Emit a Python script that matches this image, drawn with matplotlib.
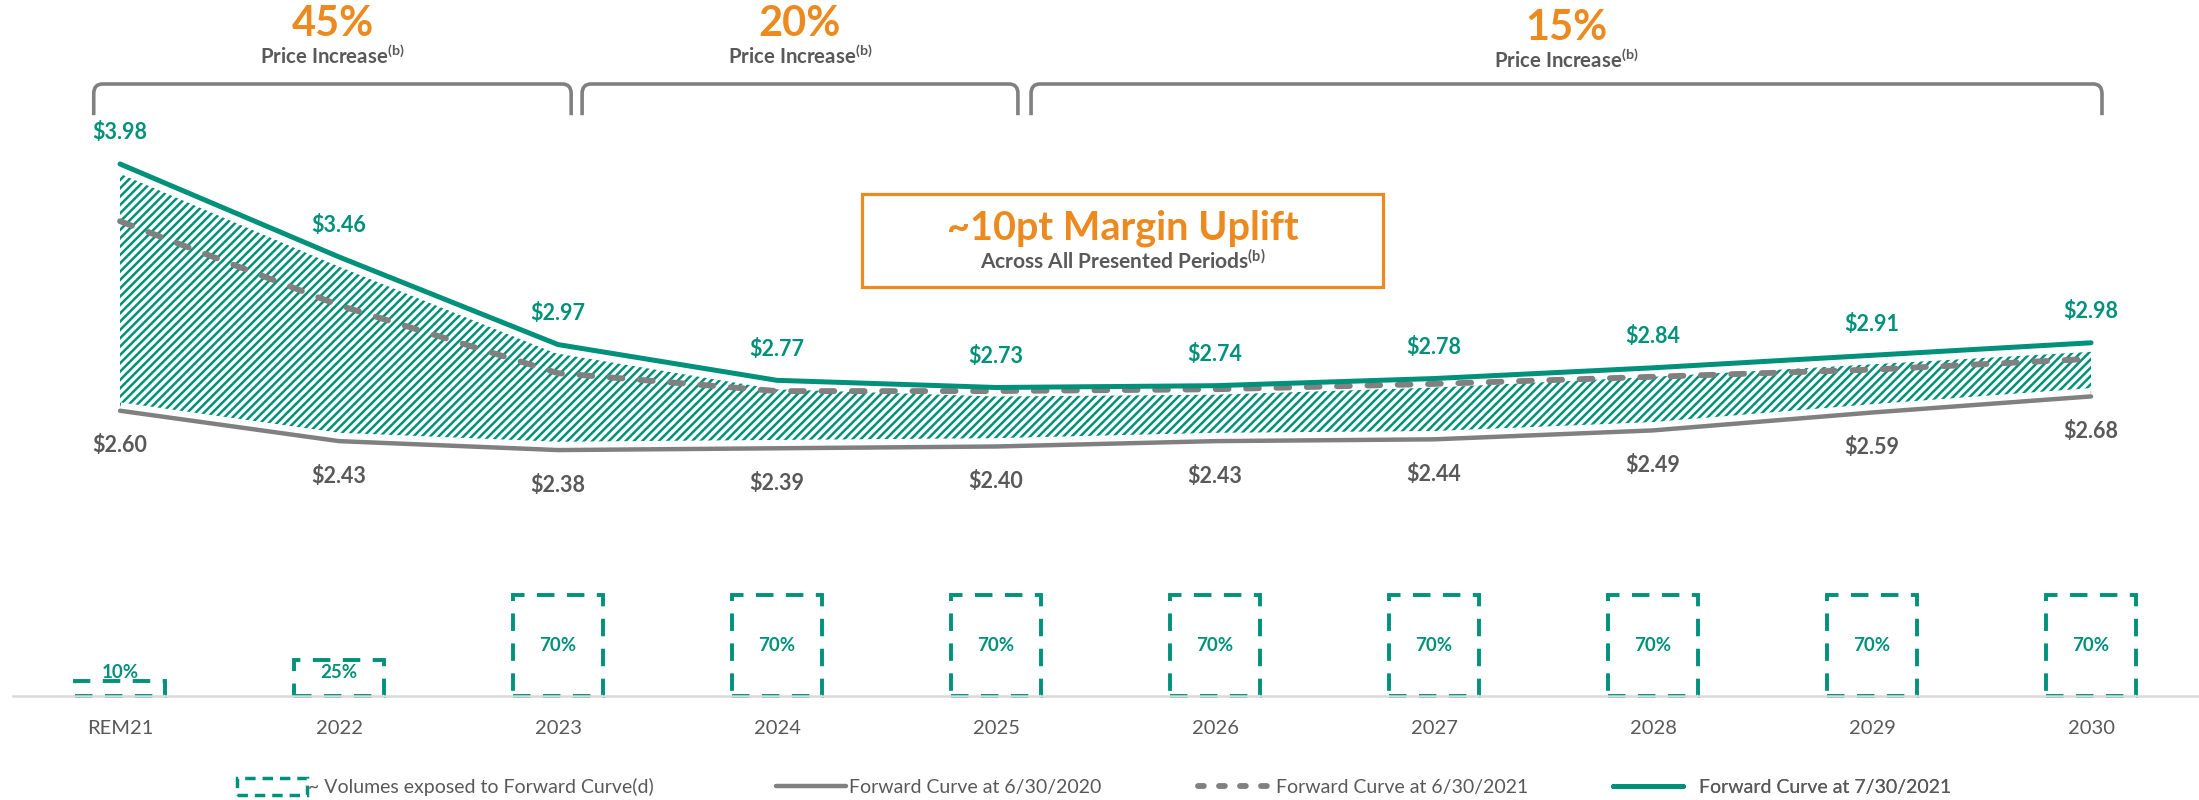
import numpy as np
import matplotlib
matplotlib.use('Agg')
import matplotlib.pyplot as plt
import matplotlib.transforms as mtransforms
from matplotlib.path import Path
from matplotlib.patches import PathPatch, Rectangle
from matplotlib.lines import Line2D

# data
periods = ['REM21', '2022', '2023', '2024', '2025', '2026', '2027', '2028', '2029', '2030']
curve_jun20 = [2.60, 2.43, 2.38, 2.39, 2.40, 2.43, 2.44, 2.49, 2.59, 2.68]
curve_jun21 = [3.66, 3.19, 2.81, 2.71, 2.71, 2.72, 2.75, 2.79, 2.83, 2.89]   # no labels, estimated
curve_jul21 = [3.98, 3.46, 2.97, 2.77, 2.73, 2.74, 2.78, 2.84, 2.91, 2.98]
exposed_pct = [10, 25, 70, 70, 70, 70, 70, 70, 70, 70]
price_increase = ['45%', '20%', '15%']
legend_labels = ['~ Volumes exposed to Forward Curve(d)', 'Forward Curve at 6/30/2020',
                 'Forward Curve at 6/30/2021', 'Forward Curve at 7/30/2021']

TEAL = '#00917A'
GRAY = '#808080'
DGRAY = '#595959'
ORANGE = '#EC8A1F'

plt.rcParams['font.family'] = ['Lato', 'DejaVu Sans']
plt.rcParams['mathtext.default'] = 'regular'
plt.rcParams['hatch.linewidth'] = 1.8
plt.rcParams['hatch.color'] = TEAL

fig = plt.figure(figsize=(21.99, 8), dpi=100)
fig.set_facecolor('white')
ax = fig.add_axes([0, 0, 1, 1])
ax.axis('off')
ax2 = ax.twinx()
ax2.axis('off')

x = np.arange(len(periods))
ax.set_xlim(-0.548, 9.493)
ax.set_ylim(0.423, 4.897)       # price scale
ax2.set_ylim(-71.8, 480.3)      # volume % scale

# step 1: hatched band between the two solid curves, white gap round the lines
ax.fill_between(x, curve_jun20, curve_jul21, facecolor='white', edgecolor=TEAL,
                hatch='////', linewidth=0, zorder=1)
ax.plot(x, curve_jun20, color='white', lw=12, solid_capstyle='butt', zorder=2)
ax.plot(x, curve_jul21, color='white', lw=13, solid_capstyle='butt', zorder=2)

ax.plot(x, curve_jun21, color=GRAY, lw=4.2, dashes=(2.2, 3.0),
        dash_capstyle='round', zorder=3)
ax.plot(x, curve_jun20, color=GRAY, lw=3.2, solid_capstyle='round', zorder=4)
ax.plot(x, curve_jul21, color=TEAL, lw=3.6, solid_capstyle='round', zorder=4)

for i, v in enumerate(curve_jul21):
    ax.annotate('$%.2f' % v, (i, v), xytext=(0, 31), textcoords='offset pixels',
                ha='center', va='center', fontsize=15.5, fontweight='bold',
                color=TEAL, parse_math=False, zorder=5)
for i, v in enumerate(curve_jun20):
    ax.annotate('$%.2f' % v, (i, v), xytext=(0, -35), textcoords='offset pixels',
                ha='center', va='center', fontsize=15.5, fontweight='bold',
                color=DGRAY, parse_math=False, zorder=5)

# step 2: exposure boxes
ax2.bar(x, exposed_pct, width=0.41, fill=False, edgecolor=TEAL, linewidth=2.8,
        linestyle=(0, (4.5, 3.2)), zorder=2)
for i, v in enumerate(exposed_pct):
    ax2.text(i, max(v / 2, 16), '%d%%' % v, ha='center', va='center',
             fontsize=13.5, fontweight='bold', color=TEAL, zorder=4)
ax2.axhline(0, xmin=0.006, xmax=1, color='#D9D9D9', lw=1.8, zorder=3)
for i, p in enumerate(periods):
    ax2.text(i, -22.8, p, ha='center', va='center', fontsize=14.5, color=DGRAY)

# step 3: brackets with price increase callouts
tr = mtransforms.blended_transform_factory(ax.transData, ax.transAxes)
bracket_x = [(-0.12, 2.06), (2.11, 4.10), (4.16, 9.05)]
ytop, ybot, rx, ry = 0.895, 0.856, 0.04, 0.012
for k, (x0, x1) in enumerate(bracket_x):
    verts = [(x0, ybot), (x0, ytop - ry), (x0, ytop), (x0 + rx, ytop),
             (x1 - rx, ytop), (x1, ytop), (x1, ytop - ry), (x1, ybot)]
    codes = [Path.MOVETO, Path.LINETO, Path.CURVE3, Path.CURVE3,
             Path.LINETO, Path.CURVE3, Path.CURVE3, Path.LINETO]
    ax.add_patch(PathPatch(Path(verts, codes), fill=False, ec=GRAY, lw=2.6,
                           transform=tr, capstyle='butt'))
    dy = -0.005 if k == 2 else 0
    xc = (x0 + x1) / 2
    ax.text(xc, 0.97 + dy, price_increase[k], transform=tr, ha='center', va='center',
            fontsize=30, fontweight='bold', color=ORANGE)
    ax.text(xc, 0.93 + dy, 'Price Increase$^{(b)}$', transform=tr, ha='center',
            va='center', fontsize=14.7, fontweight='bold', color=DGRAY)

# margin uplift box
ax.add_patch(Rectangle((0.392, 0.641), 0.237, 0.116, transform=ax.transAxes,
                       fill=False, ec=ORANGE, lw=2.3))
ax.text(0.5107, 0.715, '~10pt Margin Uplift', transform=ax.transAxes, ha='center',
        va='center', fontsize=28.5, fontweight='bold', color=ORANGE)
ax.text(0.5107, 0.674, 'Across All Presented Periods$^{(b)}$', transform=ax.transAxes,
        ha='center', va='center', fontsize=15, fontweight='bold', color=DGRAY)

# step 4: legend, one entry at a time
handles = [Rectangle((0, 0), 1, 1, fill=False, ec=TEAL, lw=2.5, linestyle=(0, (3, 2))),
           Line2D([], [], color=GRAY, lw=3.2, solid_capstyle='round'),
           Line2D([], [], color=GRAY, lw=4.2, dashes=(1.0, 2.6), dash_capstyle='round'),
           Line2D([], [], color=TEAL, lw=3.6, solid_capstyle='round')]
leg_x = [0.108, 0.353, 0.545, 0.7335]
leg_pad = [0.05, 0.15, 0.4, 0.8]
for h, lab, lx, tp in zip(handles, legend_labels, leg_x, leg_pad):
    leg = ax.legend(handles=[h], labels=[lab], loc='center left',
                    bbox_to_anchor=(lx, 0.016), bbox_transform=ax.transAxes,
                    frameon=False, borderpad=0, borderaxespad=0, handlelength=3.6,
                    handleheight=0.9, handletextpad=tp, fontsize=14, labelcolor=DGRAY)
    ax.add_artist(leg)

fig.savefig('out.png', dpi=100)
plt.close(fig)
